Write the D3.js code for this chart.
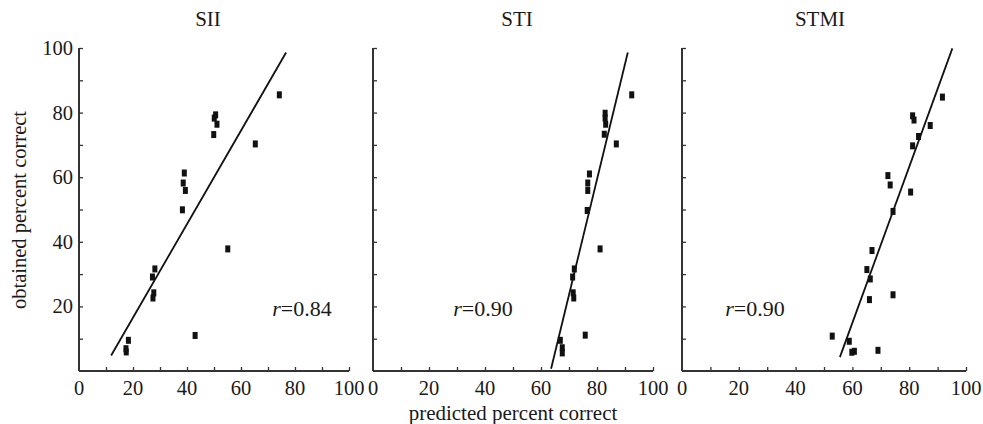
<!DOCTYPE html>
<html>
<head>
<meta charset="utf-8">
<script src="https://cdn.jsdelivr.net/npm/d3@7"></script>
<style>
  body { margin: 0; background: #fff; }
  svg { display: block; font-family: "Liberation Serif", "DejaVu Serif", serif; }
</style>
</head>
<body>
<div id="chart"></div>
<script>
// panel names and correlation labels
const panelNames = ["SII", "STI", "STMI"];
const rValues = ["0.84", "0.90", "0.90"];

// predicted (x) vs obtained (y) percent correct
const siiX = [74.2, 65.3, 50.6, 50.1, 51.1, 49.9, 39.0, 38.6, 39.4, 38.3, 55.1, 28.1, 27.2, 27.7, 27.4, 43.0, 18.3, 17.4, 17.5];
const siiY = [85.5, 70.3, 79.3, 78.3, 76.4, 73.2, 61.3, 58.2, 55.9, 49.9, 37.8, 31.6, 29.1, 24.2, 22.6, 11.0, 9.5, 6.9, 5.9];

const stiX = [92.4, 82.9, 82.9, 83.1, 82.6, 86.9, 77.3, 76.7, 76.7, 76.5, 81.1, 71.9, 71.3, 71.5, 71.7, 75.8, 66.9, 67.6, 67.6];
const stiY = [85.5, 79.8, 78.3, 76.4, 73.3, 70.3, 61.0, 58.2, 55.9, 49.7, 37.8, 31.6, 29.1, 24.2, 22.6, 11.1, 9.5, 7.2, 5.6];

const stmiX = [91.7, 81.2, 81.7, 87.4, 83.3, 81.2, 72.5, 73.3, 80.5, 74.3, 66.9, 65.1, 66.3, 74.3, 66.0, 52.9, 58.9, 69.0, 60.7, 59.8];
const stmiY = [84.8, 79.0, 77.7, 76.0, 72.6, 69.7, 60.5, 57.6, 55.4, 49.4, 37.3, 31.4, 28.5, 23.6, 22.1, 10.8, 9.2, 6.4, 6.1, 5.8];

// regression lines drawn in each panel: [x start, y start, x end, y end]
const fitLines = [
  [11.9, 4.8, 76.7, 98.6],
  [63.6, 0.7, 91.0, 98.6],
  [55.6, 4.3, 95.2, 99.9]
];

const xTicks = [0, 20, 40, 60, 80, 100];
const yTicks = [20, 40, 60, 80, 100];

const panels = [
  {name: panelNames[0], xs: siiX, ys: siiY, line: fitLines[0], r: rValues[0], left: 79, right: 349, rx: 302, tx: 208},
  {name: panelNames[1], xs: stiX, ys: stiY, line: fitLines[1], r: rValues[1], left: 373, right: 653, rx: 483, tx: 517},
  {name: panelNames[2], xs: stmiX, ys: stmiY, line: fitLines[2], r: rValues[2], left: 682, right: 966, rx: 755, tx: 820}
];

const width = 983, height = 424;
const plotTop = 48, plotBottom = 371;
const axisColor = "#333";
const textColor = "#1a1a1a";

const svg = d3.select("#chart").append("svg")
  .attr("width", width)
  .attr("height", height);

const y = d3.scaleLinear().domain([0, 100]).range([plotBottom, plotTop]);

panels.forEach((p, i) => {
  const x = d3.scaleLinear().domain([0, 100]).range([p.left, p.right]);
  const g = svg.append("g");

  // x axis: ticks point up into the plot every 10
  const xAxis = d3.axisBottom(x)
    .tickValues(d3.range(10, 101, 10))
    .tickSize(-4)
    .tickFormat("");
  const xg = g.append("g")
    .attr("transform", `translate(0,${plotBottom})`)
    .call(xAxis);
  xg.select(".domain").remove();
  xg.selectAll(".tick line").attr("stroke", axisColor).attr("stroke-width", 1.3);
  g.append("line")
    .attr("x1", p.left).attr("x2", p.right)
    .attr("y1", plotBottom).attr("y2", plotBottom)
    .attr("stroke", axisColor).attr("stroke-width", 2);

  g.selectAll(".xlab")
    .data(xTicks)
    .enter()
    .append("text")
    .attr("class", "xlab")
    .attr("x", d => x(d))
    .attr("y", 395)
    .attr("text-anchor", "middle")
    .attr("font-size", 20.5)
    .attr("fill", textColor)
    .text(d => d);

  // y axis: ticks point right every 10
  const yAxis = d3.axisLeft(y)
    .tickValues(d3.range(10, 101, 10))
    .tickSize(-4)
    .tickFormat("");
  const yg = g.append("g")
    .attr("transform", `translate(${p.left},0)`)
    .call(yAxis);
  yg.select(".domain").remove();
  yg.selectAll(".tick line").attr("stroke", axisColor).attr("stroke-width", 1.3);
  g.append("line")
    .attr("x1", p.left).attr("x2", p.left)
    .attr("y1", plotTop).attr("y2", plotBottom)
    .attr("stroke", axisColor).attr("stroke-width", 2);

  if (i === 0) {
    g.selectAll(".ylab")
      .data(yTicks)
      .enter()
      .append("text")
      .attr("class", "ylab")
      .attr("x", p.left - 6)
      .attr("y", d => y(d) + 7)
      .attr("text-anchor", "end")
      .attr("font-size", 20.5)
      .attr("fill", textColor)
      .text(d => d);
  }

  // title
  g.append("text")
    .attr("x", p.tx)
    .attr("y", 26)
    .attr("text-anchor", "middle")
    .attr("font-size", 21)
    .attr("fill", textColor)
    .text(p.name);

  // fit line
  g.append("line")
    .attr("x1", x(p.line[0])).attr("y1", y(p.line[1]))
    .attr("x2", x(p.line[2])).attr("y2", y(p.line[3]))
    .attr("stroke", "#111")
    .attr("stroke-width", 1.8);

  // points
  const pts = p.xs.map((v, k) => ({x: v, y: p.ys[k]}));
  g.selectAll(".pt")
    .data(pts)
    .enter()
    .append("rect")
    .attr("class", "pt")
    .attr("x", d => x(d.x) - 2.5)
    .attr("y", d => y(d.y) - 3.5)
    .attr("width", 5)
    .attr("height", 7)
    .attr("fill", "#111");

  // correlation label
  const rt = g.append("text")
    .attr("x", p.rx)
    .attr("y", 316)
    .attr("text-anchor", "middle")
    .attr("font-size", 22)
    .attr("fill", textColor);
  rt.append("tspan").attr("font-style", "italic").text("r");
  rt.append("tspan").text("=" + p.r);
});

// axis titles
svg.append("text")
  .attr("x", 513)
  .attr("y", 420)
  .attr("text-anchor", "middle")
  .attr("font-size", 21)
  .attr("fill", textColor)
  .text("predicted percent correct");

svg.append("text")
  .attr("transform", "translate(26,210) rotate(-90)")
  .attr("text-anchor", "middle")
  .attr("font-size", 20.5)
  .attr("fill", textColor)
  .text("obtained percent correct");
</script>
</body>
</html>
